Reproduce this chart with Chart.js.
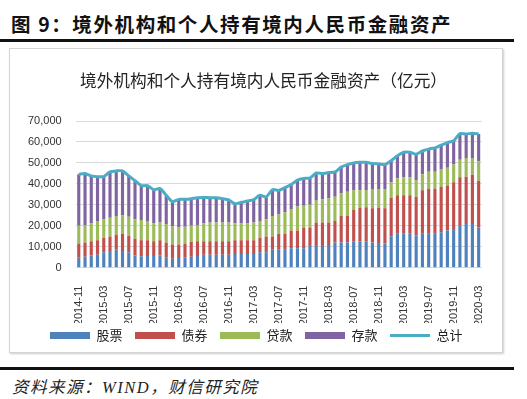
<!DOCTYPE html>
<html><head><meta charset="utf-8">
<script src="https://cdn.jsdelivr.net/npm/chart.js@4"></script>
<style>
html,body{margin:0;padding:0;background:#fff;width:527px;height:399px;overflow:hidden;}
#title{position:absolute;left:11px;top:9px;font:bold 19.5px "Noto Sans CJK SC","Noto Sans CJK JP",sans-serif;color:#111;letter-spacing:1.6px;white-space:nowrap;}
#rule1{position:absolute;left:0;top:39px;width:514px;height:3px;background:#111;}
#box{position:absolute;left:9px;top:48px;width:492px;height:303px;border:1px solid #d4d4d4;box-shadow:1px 1px 2px #ccc;}
#rule2{position:absolute;left:0;top:367px;width:514px;height:3px;background:#111;}
#src{position:absolute;left:12px;top:374px;font:italic 16.5px "Liberation Serif","Noto Sans CJK SC",serif;color:#222;white-space:nowrap;letter-spacing:1.5px;}
</style></head><body>
<div id="title">图 9：境外机构和个人持有境内人民币金融资产</div>
<div id="rule1"></div>
<div id="box"><canvas id="c" width="492" height="303"></canvas></div>
<div id="rule2"></div>
<div id="src">资料来源：WIND，财信研究院</div>
<script>
// months 2014-11 .. 2020-03
const categories = [];
(function(){let y=2014,m=11;for(let i=0;i<65;i++){categories.push(y+'-'+String(m).padStart(2,'0'));m++;if(m>12){m=1;y++;}}})();

const stocks = [4900,5200,5800,6200,7400,8000,8500,8000,7400,5800,5400,5500,5500,5800,4900,4300,4600,4900,5200,5500,
 6200,6200,6200,6200,6200,6500,6500,6500,6500,7400,7400,8500,8500,8500,9200,9200,9200,10800,10800,10800,
 10800,12000,12000,12000,12300,12300,12300,12000,11800,11500,15000,16200,16200,16200,15400,16200,16200,16200,16900,17700,
 18500,20300,20800,20800,19200];
const bonds = [6600,6800,6800,6900,6800,6900,7200,8200,7700,8000,7700,7600,7100,7300,7100,6800,6500,6600,7100,7100,
 6400,6400,6400,6400,6400,6600,6600,6600,6600,6800,7500,6400,7700,7700,8500,8500,10000,8400,10700,10700,
 10700,10300,12600,12600,15500,16200,16500,16300,16700,16800,18200,18400,18400,18400,18400,20700,21500,21500,21600,21500,
 22300,22800,22600,23500,22300];
const loans = [8500,8300,8600,9200,8900,8900,8900,8700,9200,9300,9700,9200,8600,8400,8800,8600,8100,8000,7700,7700,
 8600,8900,8900,8900,8900,8100,8100,8100,8400,8100,8200,9700,9200,10300,10000,11500,10300,10800,10800,11100,
 11600,11500,10800,11600,9100,8400,8300,9200,9000,9200,7500,8000,8500,8500,8000,7700,8100,8100,8400,8500,
 8400,8400,8900,8000,9300];
const deposits = [24600,24600,22600,21100,20400,21900,21600,21300,19500,18400,16400,16800,16000,16200,13800,11800,13400,13100,12900,13100,
 12300,11900,11900,11400,10800,9300,10000,10600,11000,12300,10700,12600,11500,11700,12000,12600,13100,12800,12900,12300,
 12300,11900,12600,13000,13100,13400,13200,12200,12000,11700,10400,10800,12000,12000,12400,11100,10800,11400,11600,12000,
 11400,12500,11500,11900,13000];
const totals = [44600,44900,43800,43400,43500,45700,46200,46200,43800,41500,39200,39100,37200,37700,34600,31500,32600,32600,32900,33400,
 33500,33400,33400,32900,32300,30500,31200,31800,32500,34600,33800,37200,36900,38200,39700,41800,42600,42800,45200,44900,
 45400,45700,48000,49200,50000,50300,50300,49700,49500,49200,51100,53400,55100,55100,54200,55700,56600,57200,58500,59700,
 60600,64000,63800,64200,63800];
const yTicks = [0,10000,20000,30000,40000,50000,60000,70000];

const tickFont = {family:'"Liberation Sans","DejaVu Sans",sans-serif', size:11};
const cjk = '"Noto Sans CJK SC",sans-serif';

const shiftPlugin = {
  id:'shiftBlocks',
  afterLayout(chart){
    if(chart.legend){chart.legend.left+=11;chart.legend.right+=11;}
    if(chart.titleBlock){chart.titleBlock.left+=15;chart.titleBlock.right+=15;}
  }
};

new Chart(document.getElementById('c'), {
  data: {
    labels: categories,
    datasets: [
      {type:'line', label:'总计', data:totals, borderColor:'#4BACC6', backgroundColor:'#4BACC6', borderWidth:3, pointRadius:0, tension:0.25, stack:'line', order:0, pointStyle:'line'},
      {type:'bar', label:'股票', data:stocks, backgroundColor:'#4F81BD', stack:'bars', order:1, pointStyle:'rect'},
      {type:'bar', label:'债券', data:bonds, backgroundColor:'#C0504D', stack:'bars', order:1, pointStyle:'rect'},
      {type:'bar', label:'贷款', data:loans, backgroundColor:'#9BBB59', stack:'bars', order:1, pointStyle:'rect'},
      {type:'bar', label:'存款', data:deposits, backgroundColor:'#8064A2', stack:'bars', order:1, pointStyle:'rect'}
    ]
  },
  plugins:[shiftPlugin],
  options: {
    responsive:false, animation:false, devicePixelRatio:1,
    layout:{padding:{left:4,right:19,top:14,bottom:0}},
    datasets:{bar:{barPercentage:0.5, categoryPercentage:1.0, borderWidth:0}},
    plugins:{
      title:{display:true, text:'境外机构和个人持有境内人民币金融资产（亿元）', color:'#222', font:{family:cjk, size:16.7, weight:'normal'}, padding:{top:8,bottom:30}},
      legend:{position:'bottom',
        labels:{usePointStyle:true, pointStyleWidth:40, boxHeight:7, padding:6, color:'#222', font:{family:cjk,size:13},
          generateLabels:(chart)=>Chart.defaults.plugins.legend.labels.generateLabels(chart).map(l=>Object.assign(l,{text:l.text+'\u2002'})),
          sort:(a,b)=>{const o=['股票','债券','贷款','存款','总计'];return o.indexOf(a.text.trim())-o.indexOf(b.text.trim());}}},
      tooltip:{enabled:false}
    },
    scales:{
      x:{stacked:true, grid:{display:false}, border:{display:false},
        afterFit:(s)=>{s.height-=13;},
        ticks:{autoSkip:false, minRotation:90, maxRotation:90, color:'#333', font:tickFont, padding:10,
          callback:function(v,i){return i%4===0?categories[i]:'';}}},
      y:{stacked:true, min:0, max:70000, grid:{color:'#d9d9d9', drawTicks:false}, border:{display:false},
        afterBuildTicks:(s)=>{s.ticks=yTicks.map(v=>({value:v}));},
        ticks:{color:'#333', font:tickFont, padding:14, callback:(v)=>v.toLocaleString('en-US')}}
    }
  }
});
</script>
</body></html>
